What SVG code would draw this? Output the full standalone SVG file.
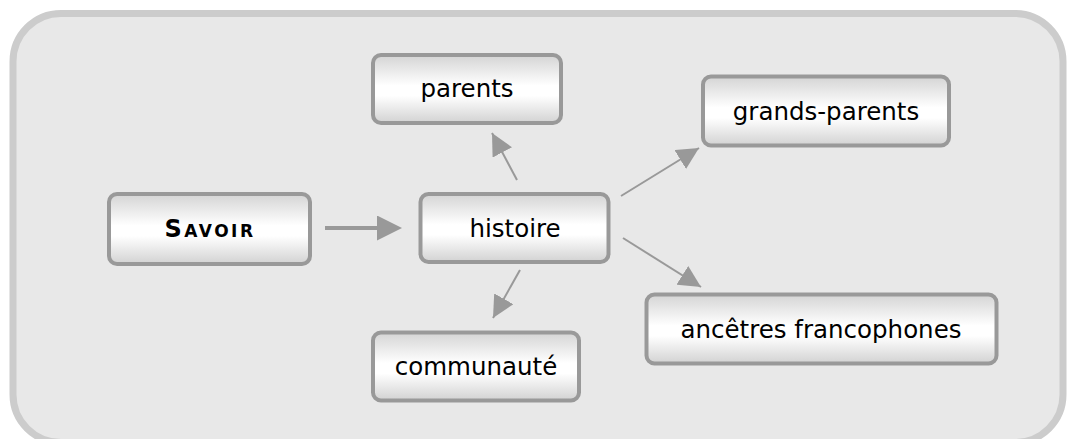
<svg xmlns="http://www.w3.org/2000/svg" width="1072" height="439" viewBox="0 0 1072 439">
<defs>
<linearGradient id="g" x1="0" y1="0" x2="0" y2="1">
<stop offset="0" stop-color="#d4d4d4"/>
<stop offset="0.45" stop-color="#ffffff"/>
<stop offset="0.6" stop-color="#ffffff"/>
<stop offset="1" stop-color="#d2d2d2"/>
</linearGradient>
<marker id="ah" viewBox="0 0 10 10" refX="10" refY="5" markerUnits="userSpaceOnUse" markerWidth="22" markerHeight="22" orient="auto">
<path d="M0,0 L10,5 L0,10 Z" fill="#999999"/>
</marker>
<marker id="ahb" viewBox="0 0 10 10" refX="0" refY="5" markerUnits="userSpaceOnUse" markerWidth="25" markerHeight="25" orient="auto">
<path d="M0,0 L10,5 L0,10 Z" fill="#999999"/>
</marker>
</defs>
<style>
.box{fill:url(#g);stroke:#999999;stroke-width:4}
.t{font-family:"DejaVu Sans",sans-serif;font-size:24.5px;fill:#000;text-anchor:middle}
.c{stroke:#999999;stroke-width:2;fill:none}
</style>
<rect x="13" y="13.5" width="1050" height="429" rx="48" fill="#e8e8e8" stroke="#cccccc" stroke-width="7"/>
<g id="connectors">
<line class="c" x1="325" y1="228" x2="377" y2="228" style="stroke-width:4" marker-end="url(#ahb)"/>
<line class="c" x1="517" y1="180" x2="492" y2="133" marker-end="url(#ah)"/>
<line class="c" x1="621" y1="196" x2="699" y2="148" marker-end="url(#ah)"/>
<line class="c" x1="520" y1="270" x2="493" y2="318" marker-end="url(#ah)"/>
<line class="c" x1="623" y1="238" x2="701" y2="287" marker-end="url(#ah)"/>
</g>
<g id="savoir">
<rect class="box" x="109" y="194" width="201" height="70" rx="8"/>
<text class="t" x="210" y="237" style="font-variant:small-caps;font-weight:bold;font-size:24px;letter-spacing:2.5px">Savoir</text>
</g>
<g id="histoire">
<rect class="box" x="420.5" y="194" width="188" height="68" rx="8"/>
<text class="t" x="515" y="237">histoire</text>
</g>
<g id="parents">
<rect class="box" x="373" y="55" width="188" height="68" rx="8"/>
<text class="t" x="467" y="97">parents</text>
</g>
<g id="grands-parents">
<rect class="box" x="703" y="76.5" width="246" height="69" rx="8"/>
<text class="t" x="826" y="120">grands-parents</text>
</g>
<g id="communaute">
<rect class="box" x="373" y="332.5" width="206" height="68" rx="8"/>
<text class="t" x="476" y="375">communauté</text>
</g>
<g id="ancetres">
<rect class="box" x="646.5" y="294.5" width="350" height="69" rx="8"/>
<text class="t" x="821" y="338">ancêtres francophones</text>
</g>
</svg>
